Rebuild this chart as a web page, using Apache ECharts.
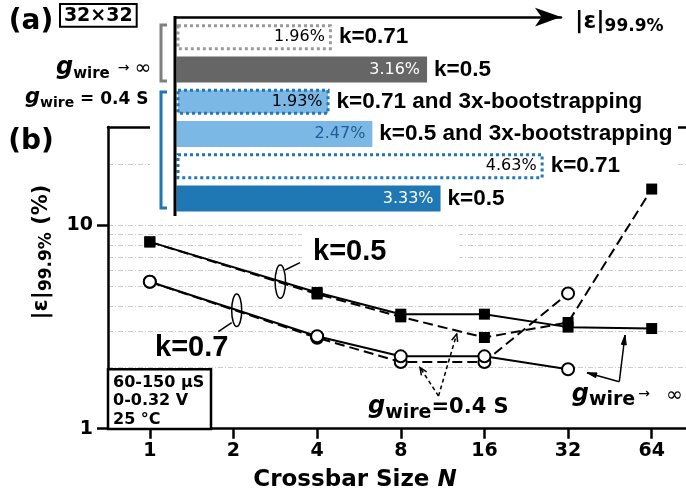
<!DOCTYPE html>
<html>
<head>
<meta charset="utf-8">
<script src="https://cdn.jsdelivr.net/npm/echarts@6/dist/echarts.min.js"></script>
<style>
  html, body { margin: 0; padding: 0; background: #fff; }
  #c { width: 686px; height: 495px; }
</style>
</head>
<body>
<div id="c"></div>
<script>
// ---- Panel (b): 99.9th-percentile error vs. crossbar size N ----
const sizesK05 = [1, 4, 8, 16, 32, 64];
const errK05Ideal = [8.3, 4.68, 3.66, 3.66, 3.16, 3.11];   // k=0.5, g_wire -> inf
const errK05Wire  = [8.3, 4.6, 3.55, 2.81, 3.33, 15.1];    // k=0.5, g_wire = 0.4 S
const sizesK07 = [1, 4, 8, 16, 32];
const errK07Ideal = [5.28, 2.85, 2.27, 2.27, 1.96];        // k=0.7, g_wire -> inf
const errK07Wire  = [5.28, 2.8, 2.13, 2.13, 4.63];         // k=0.7, g_wire = 0.4 S
const xTicks = [1, 2, 4, 8, 16, 32, 64];
const yMajorTicks = [1, 10];
const yMinorTicks = [2, 3, 4, 5, 6, 7, 8, 9, 20];

// ---- Panel (a): 32x32 crossbar ----
const barKeys = ['ideal-k071', 'ideal-k05', 'wire-k071-boot', 'wire-k05-boot', 'wire-k071', 'wire-k05'];
const barValues = [1.96, 3.16, 1.93, 2.47, 4.63, 3.33];
const barNotes = ['k=0.71', 'k=0.5', 'k=0.71 and 3x-bootstrapping', 'k=0.5 and 3x-bootstrapping', 'k=0.71', 'k=0.5'];

const BLUE = '#1f77b4';
const LIGHT_BLUE = '#7bb8e6';
const GREY = '#7f7f7f';
const FONT = 'DejaVu Sans';
const SANS = 'Liberation Sans';

const pairs = (xs, ys) => xs.map((x, i) => [x, ys[i]]);

// Rich text with per-part sizes and baseline drops (subscripts).
function mathText(parts, color) {
  const rich = {};
  let text = '';
  const drop = p => p.d || 0;
  const Q = Math.max(...parts.map(p => drop(p) + 0.154 * p.s));
  let L = 0;
  parts.forEach((p, k) => {
    const pb = Q - drop(p) - 0.154 * p.s;
    L = Math.max(L, p.s + pb);
    rich['t' + k] = {
      fontSize: p.s, fontFamily: p.f || FONT, fontWeight: p.w || 'bold',
      fontStyle: p.i ? 'italic' : 'normal', color: p.c || color,
      verticalAlign: 'bottom', padding: [0, 0, pb, p.pl || 0]
    };
    text += '{t' + k + '|' + p.t + '}';
  });
  return { text, rich, offset: Q - L };
}
function mathLabel(x, baseline, parts, color, align, extra) {
  const m = mathText(parts, color);
  return Object.assign({
    type: 'text', z: 6, silent: true,
    style: { x, y: baseline + m.offset, text: m.text, rich: m.rich, align: align || 'left', verticalAlign: 'top' }
  }, extra || {});
}
function plainText(x, baseline, text, size, opts) {
  opts = opts || {};
  return {
    type: 'text', z: 6, silent: true,
    style: {
      x, y: baseline - 0.346 * size, text, fontSize: size,
      fontFamily: opts.f || FONT, fontWeight: opts.w || 'bold', fill: opts.c || '#000',
      align: opts.align || 'left', verticalAlign: 'middle'
    }
  };
}
function arrow(x1, y1, x2, y2, o) {
  const a = Math.atan2(y2 - y1, x2 - x1), h = o.head || 8, w = o.spread || 0.4;
  const p1 = [x2 - h * Math.cos(a - w), y2 - h * Math.sin(a - w)];
  const p2 = [x2 - h * Math.cos(a + w), y2 - h * Math.sin(a + w)];
  const head = o.filled
    ? { type: 'polygon', z: 6, silent: true, shape: { points: [p1, [x2, y2], p2] }, style: { fill: '#000', stroke: '#000', lineWidth: 1 } }
    : { type: 'polyline', z: 6, silent: true, shape: { points: [p1, [x2, y2], p2] }, style: { fill: null, stroke: '#000', lineWidth: o.lw } };
  return [
    { type: 'line', z: 6, silent: true, shape: { x1, y1, x2, y2 }, style: { stroke: '#000', lineWidth: o.lw, lineDash: o.dash || null } },
    head
  ];
}

const gwireParts = (gs, ws, wd) => [
  { t: 'g', s: gs, i: true },
  { t: 'wire', s: ws, d: wd }
];

const barStyles = [
  { color: '#fff', borderColor: '#9a9a9a', borderWidth: 3, borderType: [3, 3] },
  { color: '#666666' },
  { color: LIGHT_BLUE, borderColor: BLUE, borderWidth: 3, borderType: [3, 3] },
  { color: LIGHT_BLUE },
  { color: '#fff', borderColor: BLUE, borderWidth: 3, borderType: [3, 3] },
  { color: BLUE }
];
const pctColors = ['#000', '#fff', '#000', '#1d5e96', '#000', '#fff'];

const graphics = [
  // panel (a) covers the top of panel (b)
  { type: 'rect', z: 1, silent: true, shape: { x: 150, y: 0, width: 528, height: 216 }, style: { fill: '#fff' } },
  // backdrop behind the k=0.5 annotation
  { type: 'rect', z: 1, silent: true, shape: { x: 302, y: 230, width: 157, height: 32 }, style: { fill: '#fff' } },

  // panel labels
  plainText(31, 31.3, '(a)', 28, { align: 'center' }),
  plainText(31, 151.2, '(b)', 28, { align: 'center' }),
  { type: 'rect', z: 6, silent: true, shape: { x: 60, y: 4, width: 76.7, height: 22.7 }, style: { fill: '#fff', stroke: '#000', lineWidth: 2 } },
  plainText(98.3, 22.4, '32×32', 19, { align: 'center' }),

  // inset vertical spine
  { type: 'line', z: 6, silent: true, shape: { x1: 175, y1: 16, x2: 175, y2: 216 }, style: { stroke: '#000', lineWidth: 3 } },

  // group brackets
  { type: 'polyline', z: 6, silent: true, shape: { points: [[167, 25], [161, 25], [161, 81], [167, 81]] }, style: { stroke: GREY, lineWidth: 3, fill: null } },
  { type: 'polyline', z: 6, silent: true, shape: { points: [[167, 92], [161, 92], [161, 208], [167, 208]] }, style: { stroke: BLUE, lineWidth: 3, fill: null } },
  mathLabel(56, 76, gwireParts(24, 15, 3.5).concat([
    { t: '→', s: 14, w: 'normal', pl: 8, d: -3 },
    { t: '∞', s: 20, w: 'normal', pl: 5 }
  ]), GREY),
  mathLabel(25, 105, gwireParts(21, 14, 3.5).concat([{ t: ' = 0.4 S', s: 17 }]), BLUE),

  // inset axis title
  mathLabel(575, 29.6, [{ t: '|ε|', s: 23 }, { t: '99.9%', s: 17, d: 3 }], '#000'),

  // y-axis title of panel (b)
  mathLabel(0, 0, [{ t: '|ε|', s: 22 }, { t: '99.9%', s: 17, d: 3 }, { t: ' (%)', s: 21 }], '#000', 'center',
    { x: 49, y: 252, rotation: Math.PI / 2 }),

  // x-axis title
  mathLabel(355, 488.3, [{ t: 'Crossbar Size ', s: 23 }, { t: 'N', s: 23, i: true }], '#000', 'center'),

  // measurement conditions box
  { type: 'rect', z: 6, silent: true, shape: { x: 108, y: 369.3, width: 103, height: 59.7 }, style: { fill: '#fff', stroke: '#000', lineWidth: 2.5 } },
  plainText(113, 388, '60-150 µS', 16),
  plainText(113, 406.7, '0-0.32 V', 16),
  plainText(113, 425, '25 °C', 16),

  // k annotations
  plainText(313, 261.7, 'k=0.5', 29, { f: SANS }),
  plainText(155, 358.3, 'k=0.7', 29, { f: SANS }),
  { type: 'ellipse', z: 6, silent: true, shape: { cx: 280.3, cy: 281.7, rx: 5.2, ry: 16.6 }, style: { fill: null, stroke: '#000', lineWidth: 1.5 } },
  { type: 'line', z: 6, silent: true, shape: { x1: 285, y1: 270, x2: 300, y2: 262.7 }, style: { stroke: '#000', lineWidth: 1.5 } },
  { type: 'ellipse', z: 6, silent: true, shape: { cx: 236.7, cy: 310.3, rx: 5, ry: 16.3 }, style: { fill: null, stroke: '#000', lineWidth: 1.5 } },
  { type: 'line', z: 6, silent: true, shape: { x1: 231.7, y1: 322.7, x2: 218.3, y2: 331.7 }, style: { stroke: '#000', lineWidth: 1.5 } },

  // g_wire labels inside panel (b)
  mathLabel(368, 415, gwireParts(24, 19, 4.5).concat([{ t: '=0.4 S', s: 21 }]), '#000'),
  mathLabel(571.7, 403, gwireParts(24, 19, 3.7).concat([
    { t: '→', s: 14, w: 'normal', pl: 3, d: -4 },
    { t: '∞', s: 20, w: 'normal', pl: 16 }
  ]), '#000')
]
  .concat(arrow(438.5, 396, 420, 367.5, { lw: 1.5, dash: [4, 3], head: 8 }))
  .concat(arrow(438.5, 396, 456.7, 334, { lw: 1.5, dash: [4, 3], head: 8 }))
  .concat(arrow(619.3, 381.7, 587, 372.7, { lw: 1.5, head: 10, spread: 0.25, filled: true }))
  .concat(arrow(619.3, 381.7, 625, 335, { lw: 1.5, head: 10, spread: 0.25, filled: true }));

const tickLabel = { fontFamily: FONT, fontWeight: 'bold', fontSize: 19, color: '#000' };

const option = {
  animation: false,
  backgroundColor: '#fff',
  grid: [
    { left: 108, right: 0, top: 127, bottom: 66.3 },
    { left: 176.5, top: 21.1, width: 384.5, height: 193.5 }
  ],
  xAxis: [
    {
      gridIndex: 0, type: 'log', logBase: 2, min: Math.SQRT1_2, max: Math.pow(2, 6.41),
      axisLine: { lineStyle: { color: '#000', width: 2.5 } },
      axisTick: { customValues: xTicks, length: 10, lineStyle: { color: '#000', width: 2.5 } },
      axisLabel: Object.assign({ customValues: xTicks, margin: 13 }, tickLabel),
      splitLine: { show: false }
    },
    {
      gridIndex: 1, type: 'value', min: 0, max: 4.849, position: 'top', offset: 4, z: 4,
      axisLine: { show: true, symbol: ['none', 'arrow'], symbolSize: [14, 26], lineStyle: { color: '#000', width: 2.5 } },
      axisTick: { show: false }, axisLabel: { show: false }, splitLine: { show: false }
    },
    {
      // top frame line of panel (b)
      gridIndex: 0, type: 'value', min: 0, max: 1, position: 'top',
      axisLine: { show: true, lineStyle: { color: '#000', width: 2.5 } },
      axisTick: { show: false }, axisLabel: { show: false }, splitLine: { show: false }
    }
  ],
  yAxis: [
    {
      gridIndex: 0, type: 'log', logBase: 10, min: 1, max: 30.5,
      axisLine: { lineStyle: { color: '#000', width: 2.5 } },
      axisTick: { customValues: yMajorTicks, length: 11, lineStyle: { color: '#000', width: 2.5 } },
      axisLabel: Object.assign({ customValues: yMajorTicks, margin: 15 }, tickLabel),
      splitLine: { show: true, lineStyle: { color: '#cccccc', width: 1, type: [5, 2, 1, 2] } }
    },
    {
      gridIndex: 0, type: 'log', logBase: 10, min: 1, max: 30.5,
      axisLine: { show: false },
      axisTick: { customValues: yMinorTicks, length: 6, lineStyle: { color: '#000', width: 2.2 } },
      axisLabel: { show: false },
      splitLine: { show: true, lineStyle: { color: '#cccccc', width: 1, type: [5, 2, 1, 2] } }
    },
    {
      gridIndex: 1, type: 'category', data: barKeys, inverse: true,
      axisLine: { show: false }, axisTick: { show: false }, axisLabel: { show: false }
    }
  ],
  series: [
    {
      type: 'line', xAxisIndex: 0, yAxisIndex: 0, data: pairs(sizesK05, errK05Wire), z: 2,
      symbol: 'rect', symbolSize: 11, showAllSymbol: true,
      lineStyle: { color: '#000', width: 2, type: [10, 5] }, itemStyle: { color: '#000' }
    },
    {
      type: 'line', xAxisIndex: 0, yAxisIndex: 0, data: pairs(sizesK07, errK07Wire), z: 2,
      symbol: 'circle', symbolSize: 12, showAllSymbol: true,
      lineStyle: { color: '#000', width: 2, type: [10, 5] }, itemStyle: { color: '#fff', borderColor: '#000', borderWidth: 2 }
    },
    {
      type: 'line', xAxisIndex: 0, yAxisIndex: 0, data: pairs(sizesK05, errK05Ideal), z: 2,
      symbol: 'rect', symbolSize: 11, showAllSymbol: true,
      lineStyle: { color: '#000', width: 2 }, itemStyle: { color: '#000' }
    },
    {
      type: 'line', xAxisIndex: 0, yAxisIndex: 0, data: pairs(sizesK07, errK07Ideal), z: 2,
      symbol: 'circle', symbolSize: 12, showAllSymbol: true,
      lineStyle: { color: '#000', width: 2 }, itemStyle: { color: '#fff', borderColor: '#000', borderWidth: 2 }
    },
    {
      type: 'bar', xAxisIndex: 1, yAxisIndex: 2, barWidth: 26, barGap: '-100%', z: 4,
      data: barValues.map((v, i) => ({ value: v, itemStyle: barStyles[i], label: { color: pctColors[i] } })),
      label: {
        show: true, position: 'insideRight', distance: 7,
        formatter: p => p.value.toFixed(2) + '%',
        fontFamily: FONT, fontSize: 16, color: '#000'
      }
    },
    {
      type: 'bar', xAxisIndex: 1, yAxisIndex: 2, barWidth: 26, barGap: '-100%', z: 4,
      data: barValues.slice(),
      itemStyle: { color: 'transparent' },
      label: {
        show: true, position: 'right', distance: 7,
        formatter: p => barNotes[p.dataIndex],
        fontFamily: SANS, fontWeight: 'bold', fontSize: 22.5, color: '#000'
      }
    }
  ],
  graphic: { elements: graphics }
};

const chart = echarts.init(document.getElementById('c'), null, { renderer: 'canvas', width: 686, height: 495 });
chart.setOption(option);
</script>
</body>
</html>
